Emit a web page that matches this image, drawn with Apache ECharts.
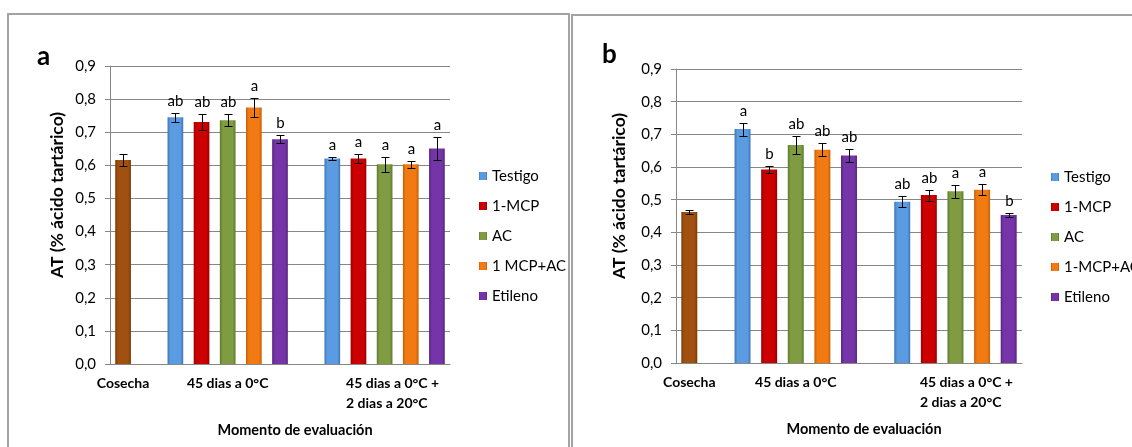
<!DOCTYPE html>
<html><head><meta charset="utf-8">
<script src="https://cdn.jsdelivr.net/npm/echarts@6/dist/echarts.min.js"></script>
<style>html,body{margin:0;padding:0;background:#fff}#c{width:1132px;height:447px}</style>
</head><body><div id="c"></div>
<script>
// ---------- data ----------
const slotLabels = ['Cosecha','','','','45 dias a 0°C','','','','','','45 dias a 0°C +\n2 dias a 20°C','',''];
const yTickLabels = ['0,0','0,1','0,2','0,3','0,4','0,5','0,6','0,7','0,8','0,9'];
const treatmentsA = ['Testigo','1-MCP','AC','1 MCP+AC','Etileno'];
const treatmentsB = ['Testigo','1-MCP','AC','1-MCP+AC','Etileno'];

const harvestA = 0.616, harvestErrA = 0.017;
const storedA = [0.745, 0.731, 0.736, 0.775, 0.679];
const storedErrA = [0.014, 0.024, 0.018, 0.029, 0.013];
const storedLetA = ['ab','ab','ab','a','b'];
const shelfA = [0.621, 0.621, 0.603, 0.603, 0.651];
const shelfErrA = [0.005, 0.013, 0.022, 0.011, 0.034];
const shelfLetA = ['a','a','a','a','a'];

const harvestB = 0.462, harvestErrB = 0.006;
const storedB = [0.716, 0.592, 0.667, 0.653, 0.635];
const storedErrB = [0.020, 0.010, 0.028, 0.020, 0.020];
const storedLetB = ['a','b','ab','ab','ab'];
const shelfB = [0.494, 0.514, 0.526, 0.530, 0.453];
const shelfErrB = [0.016, 0.017, 0.020, 0.017, 0.006];
const shelfLetB = ['ab','ab','a','a','b'];

// category slot where each group starts
const harvestSlot = 0, storedSlot = 2, shelfSlot = 8;

// ---------- styles ----------
const FONT = 'Lato, "Open Sans", sans-serif';
const harvestColor = ['#7a3a08', '#a0500f'];
const seriesColors = [
  ['#3f73b3', '#5b9be2'],
  ['#990000', '#cc0000'],
  ['#5c7a2a', '#7f9c42'],
  ['#c75e05', '#f27a12'],
  ['#552482', '#7535a8']
];
function grad(c){
  return {type:'linear', x:0, y:0, x2:1, y2:0, colorStops:[
    {offset:0, color:c[0]}, {offset:0.18, color:c[1]}, {offset:0.82, color:c[1]}, {offset:1, color:c[0]}]};
}
const GRID_COL = '#878787';

function errRender(letters){
  return function(params, api){
    const x = api.value(0), lo = api.value(1), hi = api.value(2);
    const pLo = api.coord([x, lo]), pHi = api.coord([x, hi]);
    const cx = Math.round(pLo[0]) + 0.5;
    const yl = Math.round(pLo[1]) + 0.5, yh = Math.round(pHi[1]) + 0.5;
    const cap = 4;
    const st = {stroke:'#000', lineWidth:1};
    const ch = [
      {type:'line', shape:{x1:cx, y1:yl, x2:cx, y2:yh}, style:st},
      {type:'line', shape:{x1:cx-cap, y1:yl, x2:cx+cap, y2:yl}, style:st},
      {type:'line', shape:{x1:cx-cap, y1:yh, x2:cx+cap, y2:yh}, style:st}
    ];
    const t = letters[params.dataIndex];
    if (t) ch.push({type:'text', style:{text:t, x:cx, y:yh-12, align:'center', verticalAlign:'middle',
      fontSize:15, fontFamily:FONT, fill:'#000'}});
    return {type:'group', children:ch};
  };
}

function panelSeries(p, names, harvest, hErr, stored, sErr, sLet, shelf, shErr, shLet){
  const n = slotLabels.length;
  const out = [];
  const hd = new Array(n).fill(null); hd[harvestSlot] = harvest;
  out.push({type:'bar', name:'Cosecha', xAxisIndex:p, yAxisIndex:p, stack:'s'+p, barWidth:'60%',
    data:hd, itemStyle:{color:grad(harvestColor)}, emphasis:{disabled:true}});
  names.forEach((nm, k) => {
    const d = new Array(n).fill(null);
    d[storedSlot + k] = stored[k];
    d[shelfSlot + k] = shelf[k];
    out.push({type:'bar', name:nm, xAxisIndex:p, yAxisIndex:p, stack:'s'+p, barWidth:'60%',
      data:d, itemStyle:{color:grad(seriesColors[k])}, emphasis:{disabled:true}});
  });
  const ed = [[harvestSlot, harvest - hErr, harvest + hErr]];
  const letters = [''];
  stored.forEach((v, k) => { ed.push([storedSlot + k, v - sErr[k], v + sErr[k]]); letters.push(sLet[k]); });
  shelf.forEach((v, k) => { ed.push([shelfSlot + k, v - shErr[k], v + shErr[k]]); letters.push(shLet[k]); });
  out.push({type:'custom', xAxisIndex:p, yAxisIndex:p, z:10, data:ed, renderItem:errRender(letters), silent:true});
  return out;
}

function xAxis(p, shift){
  return {type:'category', gridIndex:p, data:slotLabels,
    axisTick:{show:false}, axisLine:{lineStyle:{color:GRID_COL}},
    axisLabel:{interval:0, margin:9, color:'#000', fontFamily:FONT, fontWeight:'bold', fontSize:14, lineHeight:20,
      formatter:function(v){
        if (v.indexOf('\n') < 0) return v;
        return v.split('\n').map(l => '{s|' + l + '}').join('\n');
      },
      rich:{s:{align:'left', padding:[0,0,0,shift], fontFamily:FONT, fontWeight:'bold', fontSize:14, lineHeight:20, color:'#000'}}
    },
    name:'Momento de evaluación', nameLocation:'middle', nameGap:59,
    nameTextStyle:{color:'#000', fontFamily:FONT, fontWeight:'bold', fontSize:14.5, padding:[0,0,0,30]}
  };
}
function yAxis(p, gap){
  return {type:'value', gridIndex:p, min:0, max:0.9, interval:0.1,
    axisLine:{show:true, lineStyle:{color:GRID_COL}},
    axisTick:{show:true, length:5, lineStyle:{color:GRID_COL}},
    splitLine:{lineStyle:{color:GRID_COL}},
    axisLabel:{margin:14, color:'#000', fontFamily:FONT, fontSize:15,
      formatter:v => yTickLabels[Math.round(v * 10)]},
    name:'AT (% ácido tartárico)', nameLocation:'middle', nameGap:gap,
    nameTextStyle:{color:'#000', fontFamily:FONT, fontWeight:'bold', fontSize:17.5, padding:[0,0,0,40]}
  };
}

const chart = echarts.init(document.getElementById('c'), null, {renderer:'canvas'});
chart.setOption({
  animation:false,
  backgroundColor:'#fff',
  grid:[
    {left:110, top:66, width:340, height:298},
    {left:676, top:69, width:346, height:294}
  ],
  xAxis:[xAxis(0, 16), xAxis(1, 22)],
  yAxis:[yAxis(0, 44), yAxis(1, 48)],
  legend:[
    {data:treatmentsA, orient:'vertical', left:474, top:163, itemWidth:8, itemHeight:8, itemGap:14,
      icon:'rect', selectedMode:false, textStyle:{fontFamily:FONT, fontSize:15, color:'#000', lineHeight:16}},
    {data:treatmentsB, orient:'vertical', left:1046, top:164, itemWidth:8, itemHeight:8, itemGap:14,
      icon:'rect', selectedMode:false, textStyle:{fontFamily:FONT, fontSize:15, color:'#000', lineHeight:16}}
  ],
  graphic:[
    {type:'rect', shape:{x:8, y:14, width:561, height:460}, style:{fill:'none', stroke:'#a3a3a3', lineWidth:2}, z:-1},
    {type:'rect', shape:{x:572, y:15, width:600, height:460}, style:{fill:'none', stroke:'#a3a3a3', lineWidth:2}, z:-1},
    {type:'text', x:37, y:44, style:{text:'a', fontFamily:FONT, fontWeight:'bold', fontSize:26, fill:'#000'}},
    {type:'text', x:602, y:42, style:{text:'b', fontFamily:FONT, fontWeight:'bold', fontSize:26, fill:'#000'}}
  ],
  series:[].concat(
    panelSeries(0, treatmentsA, harvestA, harvestErrA, storedA, storedErrA, storedLetA, shelfA, shelfErrA, shelfLetA),
    panelSeries(1, treatmentsB, harvestB, harvestErrB, storedB, storedErrB, storedLetB, shelfB, shelfErrB, shelfLetB)
  )
});
</script>
</body></html>
